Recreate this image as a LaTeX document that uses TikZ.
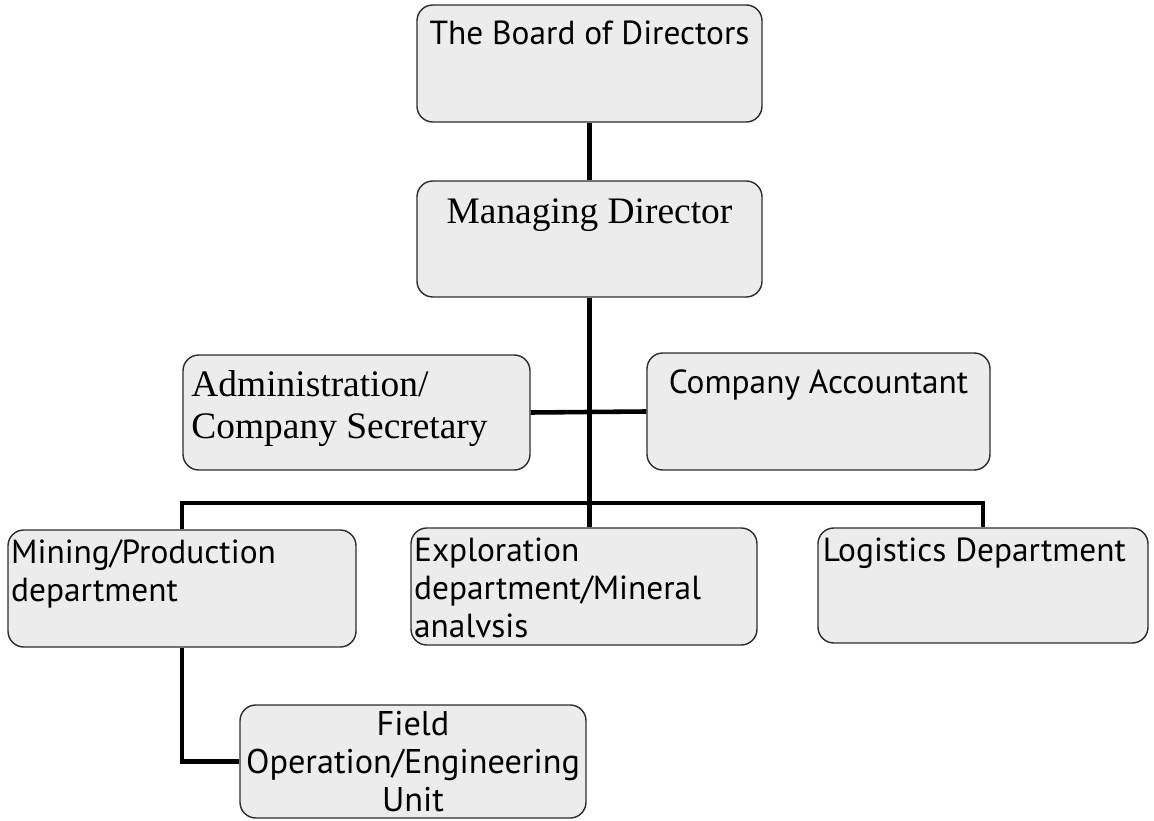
\documentclass[tikz,border=0pt]{standalone}
\usepackage{fontspec}
\setmainfont{Liberation Serif}
\setsansfont{PT Sans}
\usepackage{tikz}
\definecolor{boxfill}{RGB}{236,236,236}
\definecolor{boxline}{RGB}{45,45,45}
\pgfdeclarelayer{edgelayer}
\pgfdeclarelayer{nodelayer}
\pgfsetlayers{edgelayer,nodelayer,main}
\tikzstyle{unit}=[rectangle,rounded corners=9pt,fill=boxfill,draw=boxline,line width=0.8pt,inner sep=0pt]
\tikzstyle{sanstxt}=[font=\sffamily\fontsize{19}{21.5}\selectfont,inner sep=5pt,align=left]
\tikzstyle{seriftxt}=[font=\rmfamily\fontsize{21.3}{24}\selectfont,inner sep=5pt,align=left]
\tikzstyle{conn}=[line width=2.6pt,black]

\begin{document}
\begin{tikzpicture}[x=0.02cm,y=-0.02cm]
        \useasboundingbox (0,0) rectangle (1154,821);
        \begin{pgfonlayer}{nodelayer}
            \node [style = unit, minimum width=345*0.02cm, minimum height=117*0.02cm,
                label={[sanstxt, anchor=north, yshift=-4pt]north:The Board of Directors}] (board) at (589.5, 63.5) {};
            \node [style = unit, minimum width=345*0.02cm, minimum height=116*0.02cm,
                label={[seriftxt, anchor=north, yshift=-5.5pt]north:Managing Director}] (md) at (589.5, 239) {};
            \node [style = unit, minimum width=347*0.02cm, minimum height=115*0.02cm,
                label={[seriftxt, anchor=north west, yshift=-4pt]north west:Administration/\\Company Secretary}] (admin) at (356.5, 412.5) {};
            \node [style = unit, minimum width=343*0.02cm, minimum height=117*0.02cm,
                label={[sanstxt, anchor=north, yshift=-5pt]north:Company Accountant}] (accountant) at (818.5, 411.5) {};
            \node [style = unit, minimum width=348*0.02cm, minimum height=117*0.02cm,
                label={[sanstxt, anchor=north west, xshift=-3pt, yshift=-1pt]north west:Mining/Production\\department}] (mining) at (182, 588.5) {};
            \node [style = unit, minimum width=346*0.02cm, minimum height=117*0.02cm,
                label={[sanstxt, anchor=north west, xshift=-3pt, yshift=-1pt]north west:Exploration\\department/Mineral\\analvsis}] (exploration) at (584, 586.5) {};
            \node [style = unit, minimum width=330*0.02cm, minimum height=115*0.02cm,
                label={[sanstxt, anchor=north west, xshift=-2pt, yshift=-1pt]north west:Logistics Department}] (logistics) at (983, 585.5) {};
            \node [style = unit, minimum width=346*0.02cm, minimum height=113*0.02cm,
                label={[sanstxt, font=\sffamily\fontsize{19.5}{21.5}\selectfont, align=center, anchor=center, yshift=0pt]center:Field\\Operation/Engineering\\Unit}] (field) at (413, 761.5) {};
            \coordinate (bus) at (589.5, 503);
        \end{pgfonlayer}

        \begin{pgfonlayer}{edgelayer}
            \draw [conn] (board) -- (md);
            \draw [conn] (md) -- (bus);
            \draw [conn] (admin.east) -- (accountant.west);
            \draw [conn] (mining.north) |- (bus) -| (logistics.north);
            \draw [conn] (bus) -- (bus |- exploration.north);
            \draw [conn] (mining.south) |- (field.west);
        \end{pgfonlayer}
    \end{tikzpicture}
\end{document}
